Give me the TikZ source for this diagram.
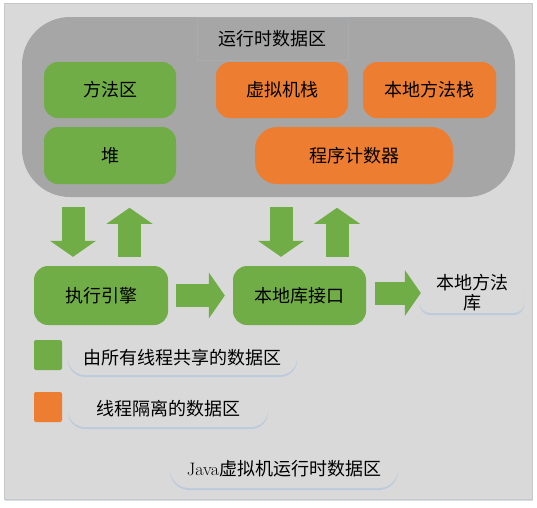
\documentclass[tikz,border=0pt]{standalone}
\usepackage{fontspec}
\newfontfamily\cjk{Noto Sans CJK SC}
\usetikzlibrary{arrows.meta,shadows}

\definecolor{bggray}{HTML}{D9D9D9}
\definecolor{rdagray}{HTML}{A6A6A6}
\definecolor{shgreen}{HTML}{70AD47}
\definecolor{isoorange}{HTML}{ED7D31}
\definecolor{edgeblue}{HTML}{BCCBDC}

\tikzset{
  areabox/.style={rounded corners=14pt, inner sep=0pt, font=\cjk\fontsize{18}{21}\selectfont},
  sharedbox/.style={areabox, fill=shgreen},
  isobox/.style={areabox, fill=isoorange},
  tagbox/.style={areabox, rounded corners=17pt, fill=bggray,
    drop shadow={shadow xshift=0pt, shadow yshift=-2pt, fill=edgeblue, opacity=1}},
  bigarrow/.style={draw=shgreen, line width=23pt, -{Triangle[length=16pt,width=46pt,line width=0pt]}},
}

\begin{document}
\begin{tikzpicture}[x=1pt,y=-1pt]
  \useasboundingbox[fill=white] (0,0) rectangle (537,507);
  \fill[edgeblue!60] (5,4) rectangle (533,501);
  \draw[fill=bggray, draw=black!22] (4,3) rectangle (532,499);

  % runtime data area
  \node[fill=rdagray, rounded corners=48pt, minimum width=493pt, minimum height=180pt] (rda) at (268.5,107) {};
  \node[areabox, rounded corners=0pt, fill=rdagray, draw=rdagray!85!edgeblue, line width=0.6pt,
        minimum width=151pt, minimum height=43pt] (rdatitle) at (272.5,38.5) {运行时数据区};
  \node[sharedbox, minimum width=132pt, minimum height=56pt] (method) at (110,90) {方法区};
  \node[sharedbox, minimum width=132pt, minimum height=57pt] (heap) at (110,155.5) {堆};
  \node[isobox, minimum width=132pt, minimum height=56pt] (vmstack) at (282,90) {虚拟机栈};
  \node[isobox, minimum width=133pt, minimum height=56pt] (natstack) at (429.5,90) {本地方法栈};
  \node[isobox, rounded corners=22pt, minimum width=198pt, minimum height=57pt] (pc) at (354,155.5) {程序计数器};

  % engine and native interface
  \node[sharedbox, minimum width=134pt, minimum height=59pt] (engine) at (101,295.5) {执行引擎};
  \node[sharedbox, minimum width=133pt, minimum height=59pt] (natif) at (299.5,295.5) {本地库接口};
  \node[tagbox, rounded corners=10pt, minimum width=104pt, minimum height=40pt, align=center] (natlib) at (472,293) {本地方法\\[-1pt]库};

  % block arrows
  \draw[bigarrow] ([xshift=-28pt,yshift=59pt]engine.north) -- ([xshift=-28pt,yshift=9pt]engine.north);
  \draw[bigarrow] ([xshift=28.5pt,yshift=9pt]engine.north) -- ([xshift=28.5pt,yshift=58pt]engine.north);
  \draw[bigarrow] ([xshift=-18.5pt,yshift=59pt]natif.north) -- ([xshift=-18.5pt,yshift=9pt]natif.north);
  \draw[bigarrow] ([xshift=37.5pt,yshift=9pt]natif.north) -- ([xshift=37.5pt,yshift=58pt]natif.north);
  \draw[bigarrow] ([xshift=8pt]engine.east) -- ([xshift=-8pt]natif.west);
  \draw[bigarrow] ([xshift=9pt,yshift=2.5pt]natif.east) -- ([xshift=1pt]natlib.west);

  % legend
  \node[sharedbox, rounded corners=2pt, minimum width=28pt, minimum height=30pt] (sharedkey) at (48,355) {};
  \node[isobox, rounded corners=2pt, minimum width=28pt, minimum height=30pt] (isokey) at (48,407) {};
  \node[tagbox, minimum width=229pt, minimum height=34pt] (sharedtext) at (182.5,358) {由所有线程共享的数据区};
  \node[tagbox, minimum width=200pt, minimum height=36pt] (isotext) at (168,409) {线程隔离的数据区};
  \node[tagbox, rounded corners=19pt, minimum width=228pt, minimum height=39pt] (caption) at (284,468.5) {{\normalfont Java}虚拟机运行时数据区};
\end{tikzpicture}
\end{document}
